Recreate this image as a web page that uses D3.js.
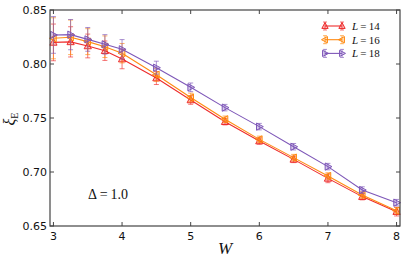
<!DOCTYPE html>
<html><head><meta charset="utf-8">
<script src="https://cdn.jsdelivr.net/npm/d3@7"></script>
<style>body{margin:0;background:#fff}svg{display:block}</style>
</head><body>
<svg id="c" width="405" height="263"></svg>
<script>
const W_vals = [3, 3.25, 3.5, 3.75, 4, 4.5, 5, 5.5, 6, 6.5, 7, 7.5, 8];
const L14 = [0.820, 0.8205, 0.8167, 0.8123, 0.8046, 0.787, 0.7667, 0.7466, 0.7287, 0.7117, 0.6941, 0.6772, 0.6633];
const L16 = [0.8238, 0.8247, 0.8207, 0.8160, 0.8100, 0.790, 0.769, 0.7488, 0.7302, 0.7133, 0.6963, 0.6787, 0.6642];
const L18 = [0.8269, 0.8272, 0.8228, 0.8182, 0.8136, 0.7966, 0.7784, 0.7596, 0.742, 0.7234, 0.705, 0.6833, 0.6716];
const ERR14 = [0.017, 0.014, 0.011, 0.009, 0.009, 0.006, 0.004, 0.003, 0.003, 0.003, 0.004, 0.003, 0.004];
const ERR16 = [0.019, 0.016, 0.012, 0.010, 0.009, 0.006, 0.004, 0.003, 0.003, 0.003, 0.003, 0.003, 0.003];
const ERR18 = [0.017, 0.014, 0.011, 0.009, 0.009, 0.006, 0.004, 0.003, 0.003, 0.003, 0.003, 0.003, 0.003];
const xTicks = [3, 4, 5, 6, 7, 8];
const yTicks = [0.65, 0.70, 0.75, 0.80, 0.85];
const seriesNames = ["L=14", "L=16", "L=18"];

const series = [
  {name: seriesNames[0], vals: L14, err: ERR14, color: "#ee2c2c", shape: "up"},
  {name: seriesNames[1], vals: L16, err: ERR16, color: "#ff8a10", shape: "left"},
  {name: seriesNames[2], vals: L18, err: ERR18, color: "#7e57b8", shape: "right"}
];

const svg = d3.select("#c");
const mL = 50, mR = 400, mT = 10, mB = 226;
const x = d3.scaleLinear().domain([2.95, 8.05]).range([mL, mR]);
const y = d3.scaleLinear().domain([0.65, 0.85]).range([mB, mT]);

function tri(shape, s) {
  const r = s;
  if (shape === "up") return `M0,${-r}L${r*0.9},${r*0.7}L${-r*0.9},${r*0.7}Z`;
  if (shape === "left") return `M${-r},0L${r*0.7},${-r*0.9}L${r*0.7},${r*0.9}Z`;
  return `M${r},0L${-r*0.7},${-r*0.9}L${-r*0.7},${r*0.9}Z`;
}

const plot = svg.append("g");
series.forEach(s => {
  const g = plot.append("g");
  W_vals.forEach((w, i) => {
    const cx = x(w), y1 = y(s.vals[i] - s.err[i]), y2 = y(s.vals[i] + s.err[i]);
    g.append("line").attr("x1", cx).attr("x2", cx).attr("y1", y1).attr("y2", y2)
      .attr("stroke", s.color).attr("stroke-opacity", 0.65).attr("stroke-width", 1);
    [y1, y2].forEach(yy => g.append("line").attr("x1", cx - 2.5).attr("x2", cx + 2.5)
      .attr("y1", yy).attr("y2", yy).attr("stroke", s.color).attr("stroke-opacity", 0.65).attr("stroke-width", 1));
  });
  const line = d3.line().x((d, i) => x(W_vals[i])).y(d => y(d));
  g.append("path").attr("d", line(s.vals)).attr("fill", "none").attr("stroke", s.color).attr("stroke-width", 1.1);
  W_vals.forEach((w, i) => {
    g.append("path").attr("d", tri(s.shape, 4)).attr("transform", `translate(${x(w)},${y(s.vals[i])})`)
      .attr("fill", s.color).attr("fill-opacity", 0.3).attr("stroke", s.color).attr("stroke-width", 1);
  });
});

const axCol = "#444";
svg.append("rect").attr("x", mL).attr("y", mT).attr("width", mR - mL).attr("height", mB - mT)
  .attr("fill", "none").attr("stroke", axCol).attr("stroke-width", 1.2);

const font = "'DejaVu Sans', sans-serif";
xTicks.forEach(t => {
  svg.append("line").attr("x1", x(t)).attr("x2", x(t)).attr("y1", mB).attr("y2", mB - 4).attr("stroke", axCol);
  svg.append("line").attr("x1", x(t)).attr("x2", x(t)).attr("y1", mT).attr("y2", mT + 4).attr("stroke", axCol);
  svg.append("text").attr("x", x(t)).attr("y", 239.5).attr("text-anchor", "middle")
    .attr("font-family", font).attr("font-size", 11).attr("fill", "#111").text(d3.format("d")(t));
});
yTicks.forEach(t => {
  svg.append("line").attr("x1", mL).attr("x2", mL + 4).attr("y1", y(t)).attr("y2", y(t)).attr("stroke", axCol);
  svg.append("line").attr("x1", mR).attr("x2", mR - 4).attr("y1", y(t)).attr("y2", y(t)).attr("stroke", axCol);
  svg.append("text").attr("x", 47).attr("y", y(t) + 4).attr("text-anchor", "end")
    .attr("font-family", font).attr("font-size", 11).attr("fill", "#111").text(d3.format(".2f")(t));
});

const serif = "'Liberation Serif', 'DejaVu Serif', serif";
svg.append("text").attr("x", 225).attr("y", 254).attr("text-anchor", "middle")
  .attr("font-family", serif).attr("font-style", "italic").attr("font-size", 17).attr("fill", "#111").text("W");
const yl = svg.append("text").attr("transform", "translate(15,119) rotate(-90)").attr("text-anchor", "middle")
  .attr("font-family", serif).attr("font-size", 16).attr("fill", "#111");
yl.append("tspan").attr("font-style", "italic").text("ξ");
yl.append("tspan").attr("font-size", 10).attr("dy", 3).text("E");

svg.append("text").attr("x", 88).attr("y", 199).attr("font-family", serif).attr("font-size", 14)
  .attr("fill", "#111").text("Δ\u2009=\u20091.0");

series.forEach((s, i) => {
  const ly = 26 + i * 13.7;
  const g = svg.append("g");
  g.append("line").attr("x1", 325).attr("x2", 342).attr("y1", ly).attr("y2", ly).attr("stroke", s.color).attr("stroke-width", 1.1);
  [325, 342].forEach(lx => {
    g.append("line").attr("x1", lx).attr("x2", lx).attr("y1", ly - 4).attr("y2", ly + 4).attr("stroke", s.color).attr("stroke-opacity", 0.65);
    g.append("line").attr("x1", lx - 2).attr("x2", lx + 2).attr("y1", ly - 4).attr("y2", ly - 4).attr("stroke", s.color).attr("stroke-opacity", 0.65);
    g.append("line").attr("x1", lx - 2).attr("x2", lx + 2).attr("y1", ly + 4).attr("y2", ly + 4).attr("stroke", s.color).attr("stroke-opacity", 0.65);
    g.append("path").attr("d", tri(s.shape, 3.5)).attr("transform", `translate(${lx},${ly})`)
      .attr("fill", s.color).attr("fill-opacity", 0.3).attr("stroke", s.color);
  });
  const t = g.append("text").attr("x", 352).attr("y", ly + 4).attr("font-family", serif).attr("font-size", 11).attr("fill", "#111");
  t.append("tspan").attr("font-style", "italic").text("L");
  t.append("tspan").text("\u2009=\u2009" + s.name.split("=")[1]);
});
</script>
</body></html>
